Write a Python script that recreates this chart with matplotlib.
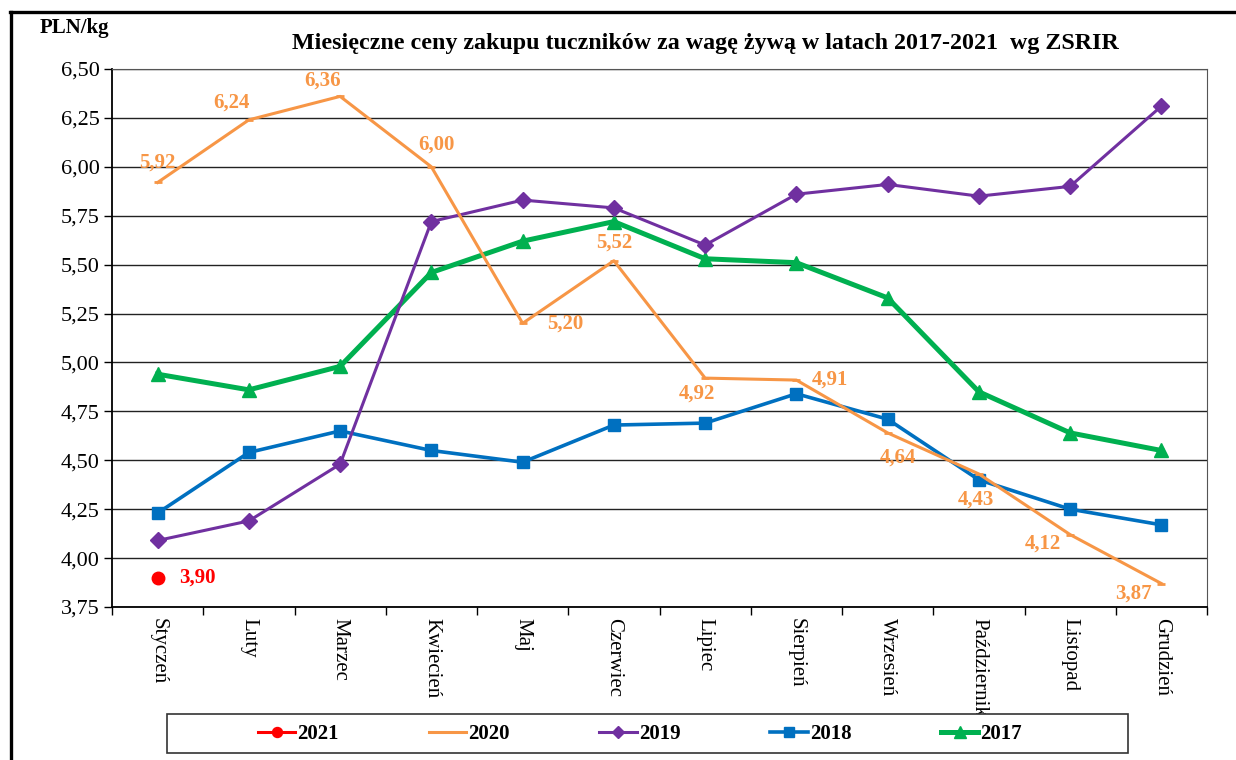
import numpy as np
import matplotlib
matplotlib.use('Agg')
import matplotlib.pyplot as plt
from matplotlib.lines import Line2D
from matplotlib.patches import Rectangle
from matplotlib.ticker import FuncFormatter, FixedLocator

plt.rcParams['font.family'] = ['Liberation Serif', 'DejaVu Serif']

months = ['Styczeń', 'Luty', 'Marzec', 'Kwiecień', 'Maj', 'Czerwiec', 'Lipiec',
          'Sierpień', 'Wrzesień', 'Październik', 'Listopad', 'Grudzień']
p2021 = [3.90]
p2020 = [5.92, 6.24, 6.36, 6.00, 5.20, 5.52, 4.92, 4.91, 4.64, 4.43, 4.12, 3.87]
p2019 = [4.09, 4.19, 4.48, 5.72, 5.83, 5.79, 5.60, 5.86, 5.91, 5.85, 5.90, 6.31]
p2018 = [4.23, 4.54, 4.65, 4.55, 4.49, 4.68, 4.69, 4.84, 4.71, 4.40, 4.25, 4.17]
p2017 = [4.94, 4.86, 4.98, 5.46, 5.62, 5.72, 5.53, 5.51, 5.33, 4.85, 4.64, 4.55]

# label offsets for the 2020 values (pixels)
offs2020 = [(0, 20), (-17, 17), (-18, 16), (5, 22), (43, 0), (0, 18),
            (-8, -15), (34, 0), (10, -25), (-3, -26), (-27, -9), (-28, -10)]

ORANGE = '#F79646'
PURPLE = '#7030A0'
BLUE = '#0070C0'
GREEN = '#00B050'
RED = '#FF0000'

fig = plt.figure(figsize=(12.36, 7.6), dpi=100)
ax = fig.add_axes([112/1236, 1-607/760, (1207-112)/1236, (607-69)/760])

x = np.arange(len(months))
ax.plot(x, p2017, color=GREEN, lw=3.6, marker='^', ms=10, zorder=3, label='2017')
ax.plot(x, p2018, color=BLUE, lw=2.6, marker='s', ms=9, zorder=4, label='2018')
ax.plot(x, p2019, color=PURPLE, lw=2.2, marker='D', ms=8, zorder=5, label='2019')
ax.plot(x, p2020, color=ORANGE, lw=2.2, marker='_', ms=6, mew=2, zorder=6, label='2020')
ax.plot(x[:len(p2021)], p2021, color=RED, lw=2.2, marker='o', ms=9, zorder=7, label='2021')

for i, v in enumerate(p2020):
    ax.annotate(f'{v:.2f}'.replace('.', ','), (x[i], v), xytext=offs2020[i],
                textcoords='offset pixels', ha='center', va='center',
                color=ORANGE, fontsize=15, fontweight='bold', zorder=8)
ax.annotate(f'{p2021[0]:.2f}'.replace('.', ','), (x[0], p2021[0]), xytext=(40, 0),
            textcoords='offset pixels', ha='center', va='center',
            color=RED, fontsize=15, fontweight='bold', zorder=8)

ax.set_xlim(-0.5, 11.5)
ax.set_ylim(3.75, 6.5)
ax.set_yticks(np.arange(3.75, 6.51, 0.25))
ax.yaxis.set_major_formatter(FuncFormatter(lambda v, p: f'{v:.2f}'.replace('.', ',')))
ax.yaxis.grid(True, color='#222222', lw=1.0)
ax.set_axisbelow(True)

ax.xaxis.set_major_locator(FixedLocator(np.arange(-0.5, 12, 1)))
ax.xaxis.set_major_formatter(FuncFormatter(lambda v, p: ''))
ax.xaxis.set_minor_locator(FixedLocator(x))
ax.set_xticklabels(months, minor=True, rotation=270, fontsize=15, va='top', ha='center')
ax.tick_params(axis='x', which='minor', length=0, pad=8)
ax.tick_params(axis='x', which='major', length=6, direction='out', width=1)
ax.tick_params(axis='y', length=6, direction='out', width=1, labelsize=16, pad=3)

for s in ['top', 'right']:
    ax.spines[s].set_color('#555555')
ax.spines['left'].set_linewidth(1.3)
ax.spines['bottom'].set_linewidth(1.3)

fig.text(705/1236, 1-44/760, 'Miesięczne ceny zakupu tuczników za wagę żywą w latach 2017-2021  wg ZSRIR',
         ha='center', va='center', fontsize=17.3, fontweight='bold')
fig.text(40/1236, 1-28/760, 'PLN/kg', ha='left', va='center', fontsize=15, fontweight='bold')

# outer frame (top and left visible)
fig.add_artist(Line2D([10/1236, 1.0], [1-12/760, 1-12/760], color='black', lw=2.4))
fig.add_artist(Line2D([11/1236, 11/1236], [0.0, 1-12/760], color='black', lw=2.4))

# legend box
fig.add_artist(Rectangle((167/1236, 1-753/760), (1128-167)/1236, (753-714)/760,
                         transform=fig.transFigure, facecolor='white', edgecolor='#333333', lw=1.2))
handles, labels = ax.get_legend_handles_labels()
order = [4, 3, 2, 1, 0]
fig.legend([handles[i] for i in order], [labels[i] for i in order], ncol=5,
           loc='center', bbox_to_anchor=(640/1236, 1-734/760), frameon=False,
           prop={'weight': 'bold', 'size': 15}, handlelength=1.8, handletextpad=0.1,
           columnspacing=4.3, markerscale=0.8)

fig.savefig('out.png', dpi=100)
